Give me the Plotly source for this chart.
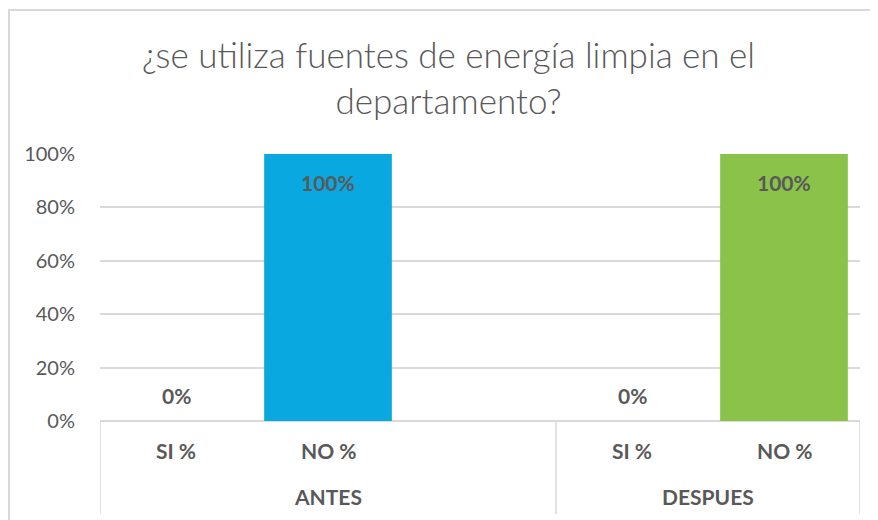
import plotly.graph_objects as go

# ---- data ----
title_text = "¿se utiliza fuentes de energía limpia en el<br>departamento?"
groups = ["ANTES", "DESPUES"]
categories = ["SI %", "NO %"]
antes_values = [0.0, 1.0]
despues_values = [0.0, 1.0]
y_ticks = [0, 0.2, 0.4, 0.6, 0.8, 1.0]
y_tick_labels = ["0%", "20%", "40%", "60%", "80%", "100%"]

# slot layout: ANTES has an extra empty slot (as in the source chart)
group_slots = {"ANTES": [0, 1, 2], "DESPUES": [3, 4]}
group_values = {"ANTES": antes_values, "DESPUES": despues_values}
bar_colors = {"ANTES": ["#0AA8E0", "#0AA8E0"], "DESPUES": ["#8BC34A", "#8BC34A"]}

GREY = "#595959"
FONT = "Lato"
W, H = 878, 520
ML, MR, MT, MB = 92, 26, 146, 107
PH = H - MT - MB

fig = go.Figure()
annotations = []
shapes = []

for g in groups:
    xs = group_slots[g][:len(categories)]
    vals = group_values[g]
    fig.add_trace(go.Bar(
        x=xs, y=vals, width=0.84,
        marker=dict(color=bar_colors[g], line=dict(width=0)),
        showlegend=False, hoverinfo="skip",
    ))
    for x, v, c in zip(xs, vals, categories):
        # data labels
        annotations.append(dict(
            x=x, y=v, xref="x", yref="y", text=f"<b>{v*100:.0f}%</b>",
            showarrow=False, xanchor="center", yanchor="middle",
            font=dict(size=21, color=GREY, family=FONT),
            yshift=-28 if v > 0 else 26,
        ))
        # category label
        annotations.append(dict(
            x=x, y=0, xref="x", yref="paper", text=f"<b>{c}</b>",
            showarrow=False, xanchor="center", yanchor="middle",
            font=dict(size=21, color=GREY, family=FONT),
            yshift=-29,
        ))
    slots = group_slots[g]
    annotations.append(dict(
        x=(slots[0] + slots[-1]) / 2, y=0, xref="x", yref="paper",
        text=f"<b>{g}</b>", showarrow=False, xanchor="center", yanchor="middle",
        font=dict(size=21, color=GREY, family=FONT), yshift=-75,
    ))

# group dividers
for xd in [-0.5, 2.5, 4.5]:
    shapes.append(dict(type="line", xref="x", yref="paper", x0=xd, x1=xd,
                       y0=0, y1=-93 / PH, line=dict(color="#D9D9D9", width=1.5)))
# chart border
shapes.append(dict(type="rect", xref="paper", yref="paper",
                   x0=-(ML - 1) / (W - ML - MR), x1=1.2, y0=-0.6,
                   y1=1 + (MT - 2) / PH,
                   line=dict(color="#D9D9D9", width=2), layer="below"))

fig.update_layout(
    width=W, height=H,
    margin=dict(l=ML, r=MR, t=MT, b=MB, autoexpand=False),
    paper_bgcolor="white", plot_bgcolor="white",
    title=dict(text=title_text, x=440.5 / W, xanchor="center",
               y=1 - 60 / H, yanchor="middle", yref="container",
               font=dict(size=35, color=GREY, family=FONT, weight=300)),
    xaxis=dict(range=[-0.5, 4.5], showticklabels=False, showgrid=False,
               zeroline=False, showline=False, fixedrange=True),
    yaxis=dict(range=[0, 1], tickvals=y_ticks, ticktext=y_tick_labels,
               tickfont=dict(size=20, color=GREY, family=FONT),
               showgrid=True, gridcolor="#D9D9D9", gridwidth=1.5,
               zeroline=True, zerolinecolor="#D9D9D9", zerolinewidth=1.5,
               showline=False, ticks="outside", ticklen=20, tickcolor="rgba(0,0,0,0)",
               fixedrange=True),
    annotations=annotations, shapes=shapes,
    bargap=0.16,
)

fig.write_html("out.html")
